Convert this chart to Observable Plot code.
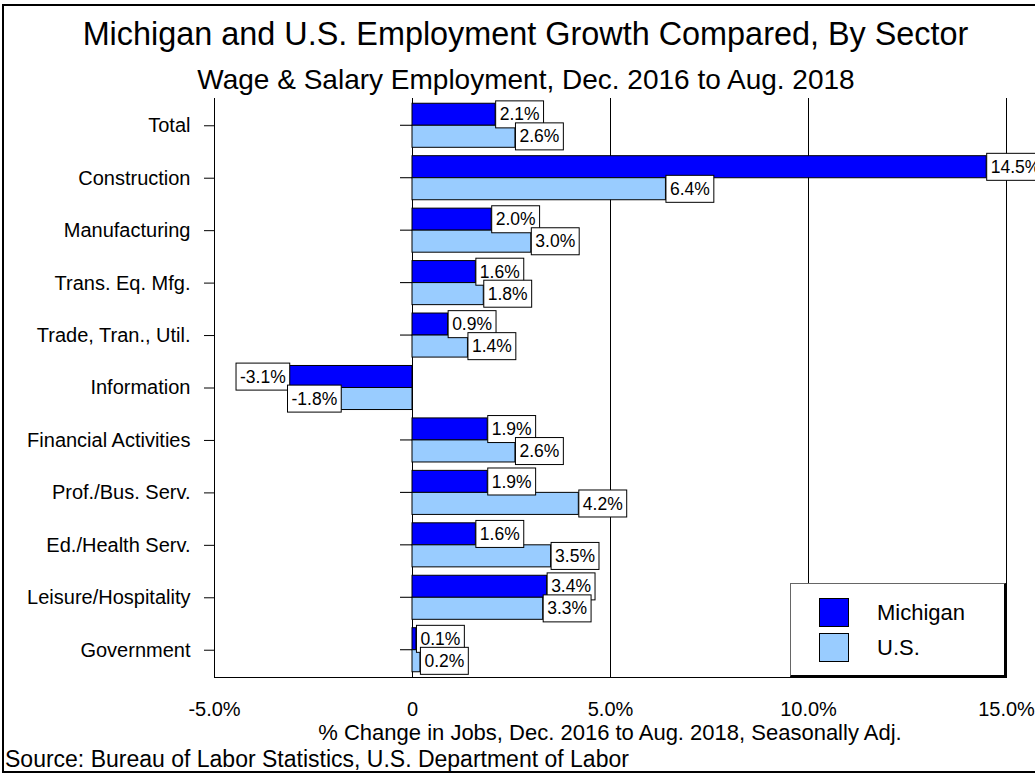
<!DOCTYPE html>
<html><head><meta charset="utf-8">
<script src="https://cdn.jsdelivr.net/npm/d3@7"></script>
<script src="https://cdn.jsdelivr.net/npm/@observablehq/plot@0.6"></script>
<style>
html,body{margin:0;padding:0;background:#fff;overflow:hidden;}
#wrap{position:relative;width:1035px;height:774px;overflow:hidden;font-family:"Liberation Sans",Arial,sans-serif;color:#000;}
.abs{position:absolute;white-space:nowrap;}
.sw{position:absolute;width:28px;height:27px;border:1px solid #000;}
</style></head><body>
<div id="wrap">
  <div class="abs" style="left:2px;top:4px;width:1100px;height:769px;border:2px solid #000;box-sizing:border-box;"></div>
  <div class="abs" style="left:0;width:1051px;top:14px;line-height:40px;font-size:32.4px;text-align:center;">Michigan and U.S. Employment Growth Compared, By Sector</div>
  <div class="abs" style="left:0;width:1052px;top:62px;line-height:36px;font-size:28px;text-align:center;">Wage &amp; Salary Employment, Dec. 2016 to Aug. 2018</div>
  <div class="abs" id="chart" style="left:0;top:96px;"></div>
  <div class="abs" style="left:110px;width:1000px;top:719px;line-height:28px;font-size:22px;text-align:center;">% Change in Jobs, Dec. 2016 to Aug. 2018, Seasonally Adj.</div>
  <div class="abs" style="left:5px;top:745px;line-height:28px;font-size:23px;">Source: Bureau of Labor Statistics, U.S. Department of Labor</div>
  <div class="abs" id="legend" style="left:790px;top:583px;width:216px;height:94px;background:#fff;border-top:1px solid #666;border-left:1px solid #666;border-right:2px solid #000;border-bottom:2px solid #000;box-sizing:border-box;"></div>
</div>
<script>
const categories = ["Total", "Construction", "Manufacturing", "Trans. Eq. Mfg.", "Trade, Tran., Util.", "Information", "Financial Activities", "Prof./Bus. Serv.", "Ed./Health Serv.", "Leisure/Hospitality", "Government"];
const michigan = [2.1, 14.5, 2.0, 1.6, 0.9, -3.1, 1.9, 1.9, 1.6, 3.4, 0.1];
const us = [2.6, 6.4, 3.0, 1.8, 1.4, -1.8, 2.6, 4.2, 3.5, 3.3, 0.2];
const seriesNames = ["Michigan", "U.S."];
const seriesColors = ["#0000FF", "#99CCFF"];
const xTicks = [-5, 0, 5, 10, 15];
const xDomain = [-5, 15];

const rows = categories.flatMap((c, i) => [
  {category: c, series: seriesNames[0], value: michigan[i]},
  {category: c, series: seriesNames[1], value: us[i]}
]);
const mi = rows.filter(d => d.series === seriesNames[0]);
const usr = rows.filter(d => d.series === seriesNames[1]);

const HALF = 22;
const fmt = d => d === 0 ? "0" : d.toFixed(1) + "%";
const lab = d => d.value.toFixed(1) + "%";
const labelOpts = (sign, dy) => ({
  x: "value", y: "category", text: lab, dy,
  textAnchor: sign > 0 ? "start" : "end", dx: sign > 0 ? 4 : -4,
  fontSize: 17.5, fill: "#000"
});

const plot = Plot.plot({
  width: 1035, height: 640,
  marginTop: 2, marginBottom: 59, marginLeft: 214, marginRight: 29,
  style: {fontFamily: '"Liberation Sans", Arial, sans-serif', fontSize: "20px", color: "#000", background: "transparent", overflow: "visible"},
  x: {domain: xDomain, ticks: xTicks, tickFormat: fmt, tickSize: 0, tickPadding: 24, line: true, label: null},
  y: {domain: categories, paddingInner: 0.16, paddingOuter: 0.1, round: false, tickSize: 10, tickPadding: 14, label: null},
  color: {domain: seriesNames, range: seriesColors},
  marks: [
    Plot.ruleX(xTicks, {stroke: "#000", strokeWidth: 1}),
    Plot.barX(categories, {x1: 0, x2: 0, y: d => d, fill: "#000", insetLeft: -12, insetTop: HALF - 0.5, insetBottom: HALF - 0.5}),
    Plot.barX(mi, {x: "value", y: "category", fill: "series", stroke: "#000", strokeWidth: 1, insetBottom: HALF}),
    Plot.barX(usr, {x: "value", y: "category", fill: "series", stroke: "#000", strokeWidth: 1, insetTop: HALF}),
    Plot.text(mi.filter(d => d.value >= 0), labelOpts(1, -HALF / 2)),
    Plot.text(mi.filter(d => d.value < 0), labelOpts(-1, -HALF / 2)),
    Plot.text(usr.filter(d => d.value >= 0), labelOpts(1, HALF / 2)),
    Plot.text(usr.filter(d => d.value < 0), labelOpts(-1, HALF / 2))
  ]
});
document.getElementById("chart").appendChild(plot);

// white boxes with black border behind each value label
plot.querySelectorAll('g[aria-label="text"] text').forEach(t => {
  const b = t.getBBox();
  const r = document.createElementNS("http://www.w3.org/2000/svg", "rect");
  r.setAttribute("x", b.x - 4);
  r.setAttribute("y", b.y - 3.5);
  r.setAttribute("width", b.width + 8);
  r.setAttribute("height", b.height + 7);
  r.setAttribute("fill", "#fff");
  r.setAttribute("stroke", "#000");
  r.setAttribute("stroke-width", 1);
  const tr = t.getAttribute("transform");
  if (tr) r.setAttribute("transform", tr);
  t.parentNode.insertBefore(r, t);
});

// legend
const legend = document.getElementById("legend");
seriesNames.forEach((name, i) => {
  const sw = document.createElement("div");
  sw.className = "sw";
  sw.style.left = "28px";
  sw.style.top = (14 + i * 35) + "px";
  sw.style.background = seriesColors[i];
  legend.appendChild(sw);
  const tx = document.createElement("div");
  tx.className = "abs";
  tx.style.left = "86px";
  tx.style.top = (14 + i * 35) + "px";
  tx.style.lineHeight = "29px";
  tx.style.fontSize = "22px";
  tx.textContent = name;
  legend.appendChild(tx);
});
</script>
</body></html>
